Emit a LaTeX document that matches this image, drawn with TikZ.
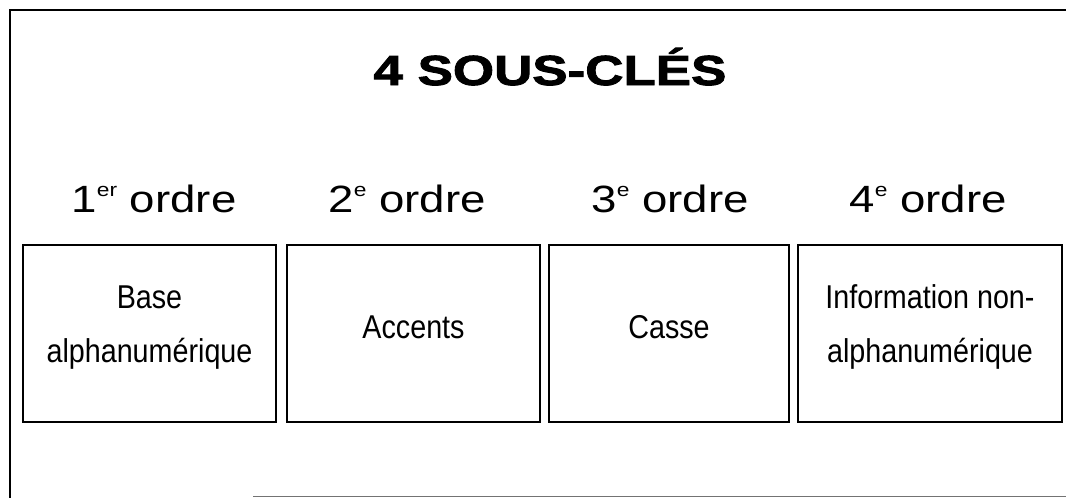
\documentclass[tikz,border=0pt]{standalone}
\usepackage{fontspec}
\setmainfont{Liberation Sans}
\newfontfamily\titlefont[FakeStretch=1.26,FakeBold=2.2]{Liberation Sans}
\newfontfamily\headfont[FakeStretch=1.2]{Liberation Sans}
\newfontfamily\narrowfont[FakeStretch=0.87]{Liberation Sans}
\newcommand\ordsup[1]{\raisebox{16pt}{\fontsize{19}{19}\selectfont #1}}
\begin{document}
\begin{tikzpicture}[x=1pt,y=-1pt,
  keybox/.style={draw, line width=1.3pt, minimum height=177pt, inner sep=0pt},
  boxtext/.style={anchor=base, inner sep=0pt, font=\narrowfont\fontsize{33}{33}\selectfont},
  heading/.style={anchor=base, inner sep=0pt, font=\headfont\fontsize{38}{38}\selectfont},
  frameline/.style={line width=1.3pt}]
\useasboundingbox (0,0) rectangle (1066,498);
% frame
\coordinate (fbl) at (10,498);
\coordinate (ftl) at (10,10);
\coordinate (ftr) at (1066,10);
\coordinate (bl) at (253,496);
\coordinate (br) at (1066,496);
\draw[frameline] (fbl) -- (ftl) -- (ftr);
\draw[line width=0.8pt, black!55] (bl) -- (br);
% title
\node[anchor=base, inner sep=0pt, font=\titlefont\bfseries\fontsize{42}{42}\selectfont] (title) at (550,85) {4 SOUS-CLÉS};
% headings
\node[heading] (h1) at (154,212) {1\ordsup{er} ordre};
\node[heading] (h2) at (407,212) {2\ordsup{e} ordre};
\node[heading] (h3) at (670,212) {3\ordsup{e} ordre};
\node[heading] (h4) at (928,212) {4\ordsup{e} ordre};
% boxes
\node[keybox, minimum width=253pt] (b1) at (149.5,333.5) {};
\node[keybox, minimum width=253pt] (b2) at (413.5,333.5) {};
\node[keybox, minimum width=240pt] (b3) at (669,333.5) {};
\node[keybox, minimum width=264pt] (b4) at (930,333.5) {};
% box texts
\node[boxtext] (t1a) at ([yshift=25.5pt]b1.center) {Base};
\node[boxtext] (t1b) at ([yshift=-28.5pt]b1.center) {alphanumérique};
\node[boxtext] (t2) at ([yshift=-4.5pt]b2.center) {Accents};
\node[boxtext] (t3) at ([yshift=-4.5pt]b3.center) {Casse};
\node[boxtext] (t4a) at ([yshift=25.5pt]b4.center) {Information non-};
\node[boxtext] (t4b) at ([yshift=-28.5pt]b4.center) {alphanumérique};
\end{tikzpicture}
\end{document}
